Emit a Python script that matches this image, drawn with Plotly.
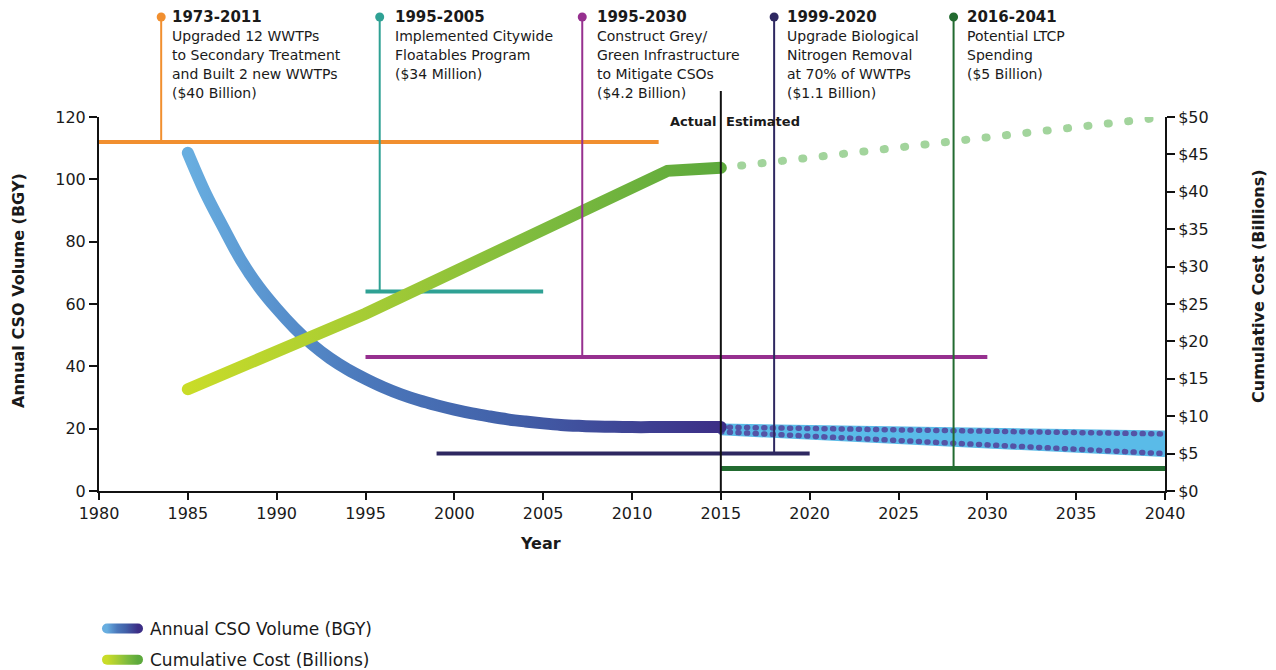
import plotly.graph_objects as go

# ---------------------------------------------------------------------------
# Data
# ---------------------------------------------------------------------------
# Annual CSO volume, billion gallons per year (left axis), actual record
cso_years = list(range(1985, 2016))
cso_volume = [108.5, 95.5, 84.5, 74.0, 65.5, 58.5, 52.3, 47.0, 42.6, 39.0,
              36.0, 33.3, 31.0, 29.1, 27.5, 26.1, 24.9, 23.9, 23.0, 22.3,
              21.7, 21.2, 20.9, 20.7, 20.6, 20.5, 20.5, 20.5, 20.5, 20.5,
              20.5]

# Estimated CSO volume range after 2015
proj_years = [2015, 2040]
cso_proj_high = [20.5, 18.3]
cso_proj_low = [19.0, 12.0]

# Cumulative cost in billions of dollars (right axis)
cost_years = [1985, 1995, 2012, 2015]
cost_billions = [13.6, 23.7, 42.8, 43.2]
cost_proj = [43.2, 50.0]

# Programs: period heading, description, bar extent, bar level and marker year
prog_titles = ["1973-2011", "1995-2005", "1995-2030", "1999-2020", "2016-2041"]
prog_lines = [
    ["Upgraded 12 WWTPs", "to Secondary Treatment", "and Built 2 new WWTPs", "($40 Billion)"],
    ["Implemented Citywide", "Floatables Program", "($34 Million)"],
    ["Construct Grey/", "Green Infrastructure", "to Mitigate CSOs", "($4.2 Billion)"],
    ["Upgrade Biological", "Nitrogen Removal", "at 70% of WWTPs", "($1.1 Billion)"],
    ["Potential LTCP", "Spending", "($5 Billion)"],
]
prog_start = [1973, 1995, 1995, 1999, 2015]
prog_end = [2011.5, 2005, 2030, 2020, 2041]
prog_level = [112, 64, 43, 12, 7.2]
prog_marker_year = [1983.5, 1995.8, 2007.2, 2018.0, 2028.1]
prog_colors = ["#F18F2F", "#2FA194", "#96308F", "#2E2861", "#226B30"]
prog_text_shift = [11, 15, 15, 13, 13]

x_ticks = list(range(1980, 2041, 5))
y_ticks = list(range(0, 121, 20))
cost_ticks = list(range(0, 51, 5))
cost_tick_text = ["$%d" % v for v in cost_ticks]

# Colour ramps along the actual-record lines
blue_stops = [[0, "#68AEE0"], [0.17, "#5891CD"], [0.33, "#4B78BB"],
              [0.6, "#4261A9"], [1, "#3C2E86"]]
green_stops = [[0, "#C9DC28"], [0.33, "#A6CC34"], [0.66, "#7DBB3E"],
               [1, "#5DA93C"]]

FONT = "DejaVu Sans"
TXT = "#1a1a1a"

# plot-area geometry in pixels (used to place text outside the axes)
PLOT_LEFT, PLOT_RIGHT, PLOT_TOP, PLOT_BOTTOM = 99, 1165, 117, 491


def paper_y(pix):
    return (PLOT_BOTTOM - pix) / (PLOT_BOTTOM - PLOT_TOP)


def paper_x(pix):
    return (pix - PLOT_LEFT) / (PLOT_RIGHT - PLOT_LEFT)


fig = go.Figure()

# Program period bars
for i in range(len(prog_titles)):
    fig.add_trace(go.Scatter(
        x=[prog_start[i], prog_end[i]], y=[prog_level[i], prog_level[i]],
        mode="lines", line=dict(color=prog_colors[i], width=4 if i < 4 else 5),
        showlegend=False, hoverinfo="skip"))

# Estimated CSO volume band
band = "#5ABBE8"
fig.add_trace(go.Scatter(x=proj_years, y=cso_proj_low, mode="lines",
                         line=dict(color=band, width=7), showlegend=False,
                         hoverinfo="skip"))
fig.add_trace(go.Scatter(x=proj_years, y=cso_proj_high, mode="lines",
                         line=dict(color=band, width=7), fill="tonexty",
                         fillcolor=band, showlegend=False, hoverinfo="skip"))
for arr in (cso_proj_low, cso_proj_high):
    fig.add_trace(go.Scatter(x=proj_years, y=arr, mode="lines",
                             line=dict(color="#5454A6", width=5.5, dash="1px,7.6px"),
                             meta={"cap": "round"}, showlegend=False,
                             hoverinfo="skip"))

# Actual CSO volume
fig.add_trace(go.Scatter(
    x=cso_years, y=cso_volume, mode="lines", name="Annual CSO Volume (BGY)",
    line=dict(color="#4B78BB", width=12, shape="spline", smoothing=1.0),
    legendgroup="cso",
    meta={"cap": "round", "stops": blue_stops, "legend_width": 10}))

# Cumulative cost: estimate then actual (right axis)
fig.add_trace(go.Scatter(
    x=proj_years, y=cost_proj, yaxis="y2", mode="lines",
    line=dict(color="#A2D49C", width=8, dash="1px,19.5px"),
    meta={"cap": "round"}, showlegend=False, hoverinfo="skip"))
fig.add_trace(go.Scatter(
    x=cost_years, y=cost_billions, yaxis="y2", mode="lines",
    name="Cumulative Cost (Billions)", legendgroup="cost",
    line=dict(color="#7DBB3E", width=12),
    meta={"cap": "round", "stops": green_stops, "legend_width": 10}))

shapes = []
annotations = []

# Program connectors, marker dots and descriptions above the axes
TOP_DOT = 17
BODY_FIRST, BODY_STEP = 36, 19
for i in range(len(prog_titles)):
    c = prog_colors[i]
    shapes.append(dict(type="line", xref="x", yref="paper",
                       x0=prog_marker_year[i], x1=prog_marker_year[i],
                       y0=prog_level[i] / 120.0, y1=paper_y(TOP_DOT),
                       line=dict(color=c, width=2)))
    shapes.append(dict(type="circle", xref="x", yref="paper",
                       xsizemode="pixel", ysizemode="pixel",
                       xanchor=prog_marker_year[i], yanchor=paper_y(TOP_DOT),
                       x0=-4.5, x1=4.5, y0=-4.5, y1=4.5,
                       fillcolor=c, line=dict(width=0)))
    annotations.append(dict(xref="x", yref="paper", x=prog_marker_year[i],
                            y=paper_y(TOP_DOT), xshift=prog_text_shift[i] - 2,
                            xanchor="left", yanchor="middle", showarrow=False,
                            text="<b>%s</b>" % prog_titles[i],
                            font=dict(family=FONT, size=15, color=TXT)))
    for k, line in enumerate(prog_lines[i]):
        annotations.append(dict(xref="x", yref="paper", x=prog_marker_year[i],
                                y=paper_y(BODY_FIRST + BODY_STEP * k),
                                xshift=prog_text_shift[i] - 2,
                                xanchor="left", yanchor="middle",
                                showarrow=False, text=line,
                                font=dict(family=FONT, size=14, color=TXT)))

# Actual / Estimated divider
shapes.append(dict(type="line", xref="x", yref="paper", x0=2015, x1=2015,
                   y0=0, y1=paper_y(91), line=dict(color="#111111", width=2)))
annotations.append(dict(xref="x", yref="paper", x=2015, y=paper_y(121),
                        xanchor="right", yanchor="middle", xshift=-3,
                        showarrow=False, text="<b>Actual</b>",
                        font=dict(family=FONT, size=13, color=TXT)))
annotations.append(dict(xref="x", yref="paper", x=2015, y=paper_y(121),
                        xanchor="left", yanchor="middle", xshift=3,
                        showarrow=False, text="<b>Estimated</b>",
                        font=dict(family=FONT, size=13, color=TXT)))

# Axis titles
annotations.append(dict(xref="paper", yref="paper", x=paper_x(18), y=paper_y(291),
                        xanchor="center", yanchor="middle",
                        textangle=-90, showarrow=False,
                        text="<b>Annual CSO Volume (BGY)</b>",
                        font=dict(family=FONT, size=16, color=TXT)))
annotations.append(dict(xref="paper", yref="paper", x=paper_x(1258), y=paper_y(286),
                        xanchor="center", yanchor="middle",
                        textangle=-90, showarrow=False,
                        text="<b>Cumulative Cost (Billions)</b>",
                        font=dict(family=FONT, size=16, color=TXT)))
annotations.append(dict(xref="paper", yref="paper", x=paper_x(540), y=paper_y(543),
                        xanchor="center", yanchor="middle",
                        showarrow=False, text="<b>Year</b>",
                        font=dict(family=FONT, size=16, color=TXT)))

axis_common = dict(ticks="outside", tickcolor="#111111", tickwidth=1.5,
                   showline=True, linecolor="#111111", linewidth=2,
                   showgrid=False, zeroline=False,
                   tickfont=dict(family=FONT, size=16, color=TXT))

fig.update_layout(
    width=1276, height=670,
    margin=dict(l=PLOT_LEFT, r=1276 - PLOT_RIGHT, t=PLOT_TOP, b=670 - PLOT_BOTTOM,
                autoexpand=False),
    paper_bgcolor="white", plot_bgcolor="white",
    font=dict(family=FONT, color=TXT),
    xaxis=dict(range=[1980, 2040], tickmode="array", tickvals=x_ticks,
               ticklen=7, **axis_common),
    yaxis=dict(range=[0, 120], tickmode="array", tickvals=y_ticks,
               ticklen=8, **axis_common),
    yaxis2=dict(range=[0, 50], overlaying="y", side="right", tickmode="array",
                tickvals=cost_ticks, ticktext=cost_tick_text, ticklen=8,
                **axis_common),
    showlegend=True,
    legend=dict(x=paper_x(100), y=paper_y(611), xanchor="left", yanchor="top",
                orientation="v", tracegroupgap=6, itemwidth=40,
                bgcolor="rgba(0,0,0,0)",
                font=dict(family=FONT, size=17, color=TXT)),
    shapes=shapes,
    annotations=annotations,
)

# Round line caps and left-to-right colour ramps for the flagged traces
post_js = """
var svgNS = 'http://www.w3.org/2000/svg';
var gd = document.getElementById('{plot_id}');
var defs = gd.querySelector('svg.main-svg defs');
var count = 0;
function paint(path, opts) {
  if (!path || !opts) return;
  if (opts.d) { path.setAttribute('d', opts.d); }
  if (opts.cap) { path.style.strokeLinecap = opts.cap; }
  if (opts.width) { path.style.strokeWidth = opts.width + 'px'; }
  if (opts.stops) {
    var bb = path.getBBox();
    var lg = document.createElementNS(svgNS, 'linearGradient');
    var id = 'strokeramp-' + (count++);
    lg.setAttribute('id', id);
    lg.setAttribute('gradientUnits', 'userSpaceOnUse');
    lg.setAttribute('x1', bb.x); lg.setAttribute('y1', bb.y);
    lg.setAttribute('x2', bb.x + Math.max(bb.width, 1)); lg.setAttribute('y2', bb.y);
    opts.stops.forEach(function (s) {
      var st = document.createElementNS(svgNS, 'stop');
      st.setAttribute('offset', s[0]);
      st.setAttribute('stop-color', s[1]);
      lg.appendChild(st);
    });
    defs.appendChild(lg);
    path.style.stroke = 'url(#' + id + ')';
  }
}
gd.querySelectorAll('g.trace.scatter').forEach(function (g) {
  var d = g.__data__, t = d && d[0] && d[0].trace;
  if (t && t.meta) {
    g.querySelectorAll('path.js-line').forEach(function (p) {
      paint(p, {cap: t.meta.cap, stops: t.meta.stops});
    });
  }
});
// legend swatch: short rounded ramp, leaving a gap before the label
gd.querySelectorAll('g.legend g.traces').forEach(function (g) {
  var d = g.__data__, t = d && d[0] && d[0].trace;
  if (!t || !t.meta) return;
  var p = g.querySelector('path.js-line');
  paint(p, {d: 'M7,0h31', cap: t.meta.cap, stops: t.meta.stops,
            width: t.meta.legend_width});
});
"""

fig.write_html("out.html", post_script=post_js)
